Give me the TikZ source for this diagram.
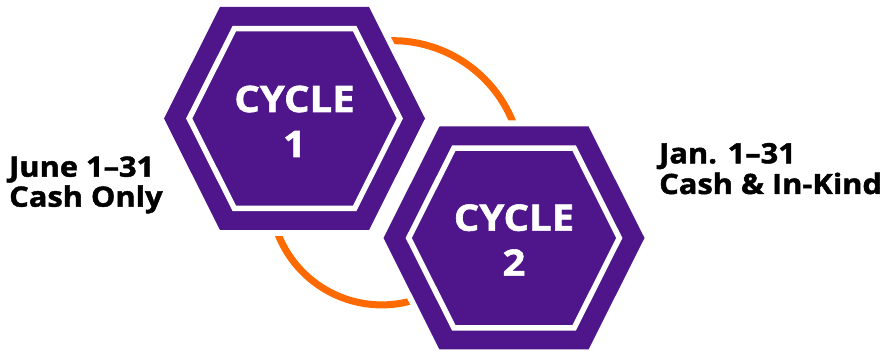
\documentclass[tikz,border=0pt]{standalone}
\usepackage{fontspec}
\setmainfont{Open Sans}[FakeStretch=1.1, BoldFeatures={FakeBold=1.6}]
\definecolor{hexpurple}{RGB}{78,22,138}
\definecolor{arcorange}{RGB}{255,106,0}
\tikzset{
  hexouter/.style={fill=hexpurple, preaction={draw=white, line width=12pt, line join=miter}},
  hexinner/.style={draw=white, line width=5.5pt, line join=miter},
  arcline/.style={draw=arcorange, line width=7pt},
  hextext/.style={text=white, font=\fontsize{36.4}{40}\selectfont\bfseries, inner sep=0pt, anchor=base},
  labtext/.style={text=black, font=\fontsize{28}{30}\selectfont\bfseries, inner sep=0pt, anchor=base west}
}
\newcommand\hexshape{(-130.5,0) -- (-74.5,111.5) -- (74.5,111.5) -- (130.5,0) -- (74.5,-111.5) -- (-74.5,-111.5) -- cycle}
\begin{document}
\begin{tikzpicture}[x=1pt,y=1pt]
\useasboundingbox (0,0) rectangle (887,351);
% orange arcs
\draw[arcline] (392.6,180.8) ++(100:129.5) arc[start angle=100, end angle=15, radius=129.5];
\draw[arcline] (381.8,157.6) ++(195:111.5) arc[start angle=195, end angle=292, radius=111.5];
% hexagon 1
\coordinate (h1) at (294.5,232.5);
\path[hexouter, shift={(h1)}] \hexshape;
\path[hexinner, shift={(h1)}, scale=0.807] \hexshape;
% hexagon 2
\coordinate (h2) at (514,113);
\path[hexouter, shift={(h2)}] \hexshape;
\path[hexinner, shift={(h2)}, scale=0.807] \hexshape;
% texts
\node[hextext] (c1a) at (294.5,239) {CYCLE};
\node[hextext] (c1b) at (294.5,194) {1};
\node[hextext] (c2a) at (514,120.3) {CYCLE};
\node[hextext] (c2b) at (514,75.3) {2};
\node[labtext] (l1a) at (9,174.3) {June 1–31};
\node[labtext] (l1b) at (9,144.3) {Cash Only};
\node[labtext] (l2a) at (659,187.7) {Jan. 1–31};
\node[labtext] (l2b) at (659,157) {Cash \& In-Kind};
\end{tikzpicture}
\end{document}
